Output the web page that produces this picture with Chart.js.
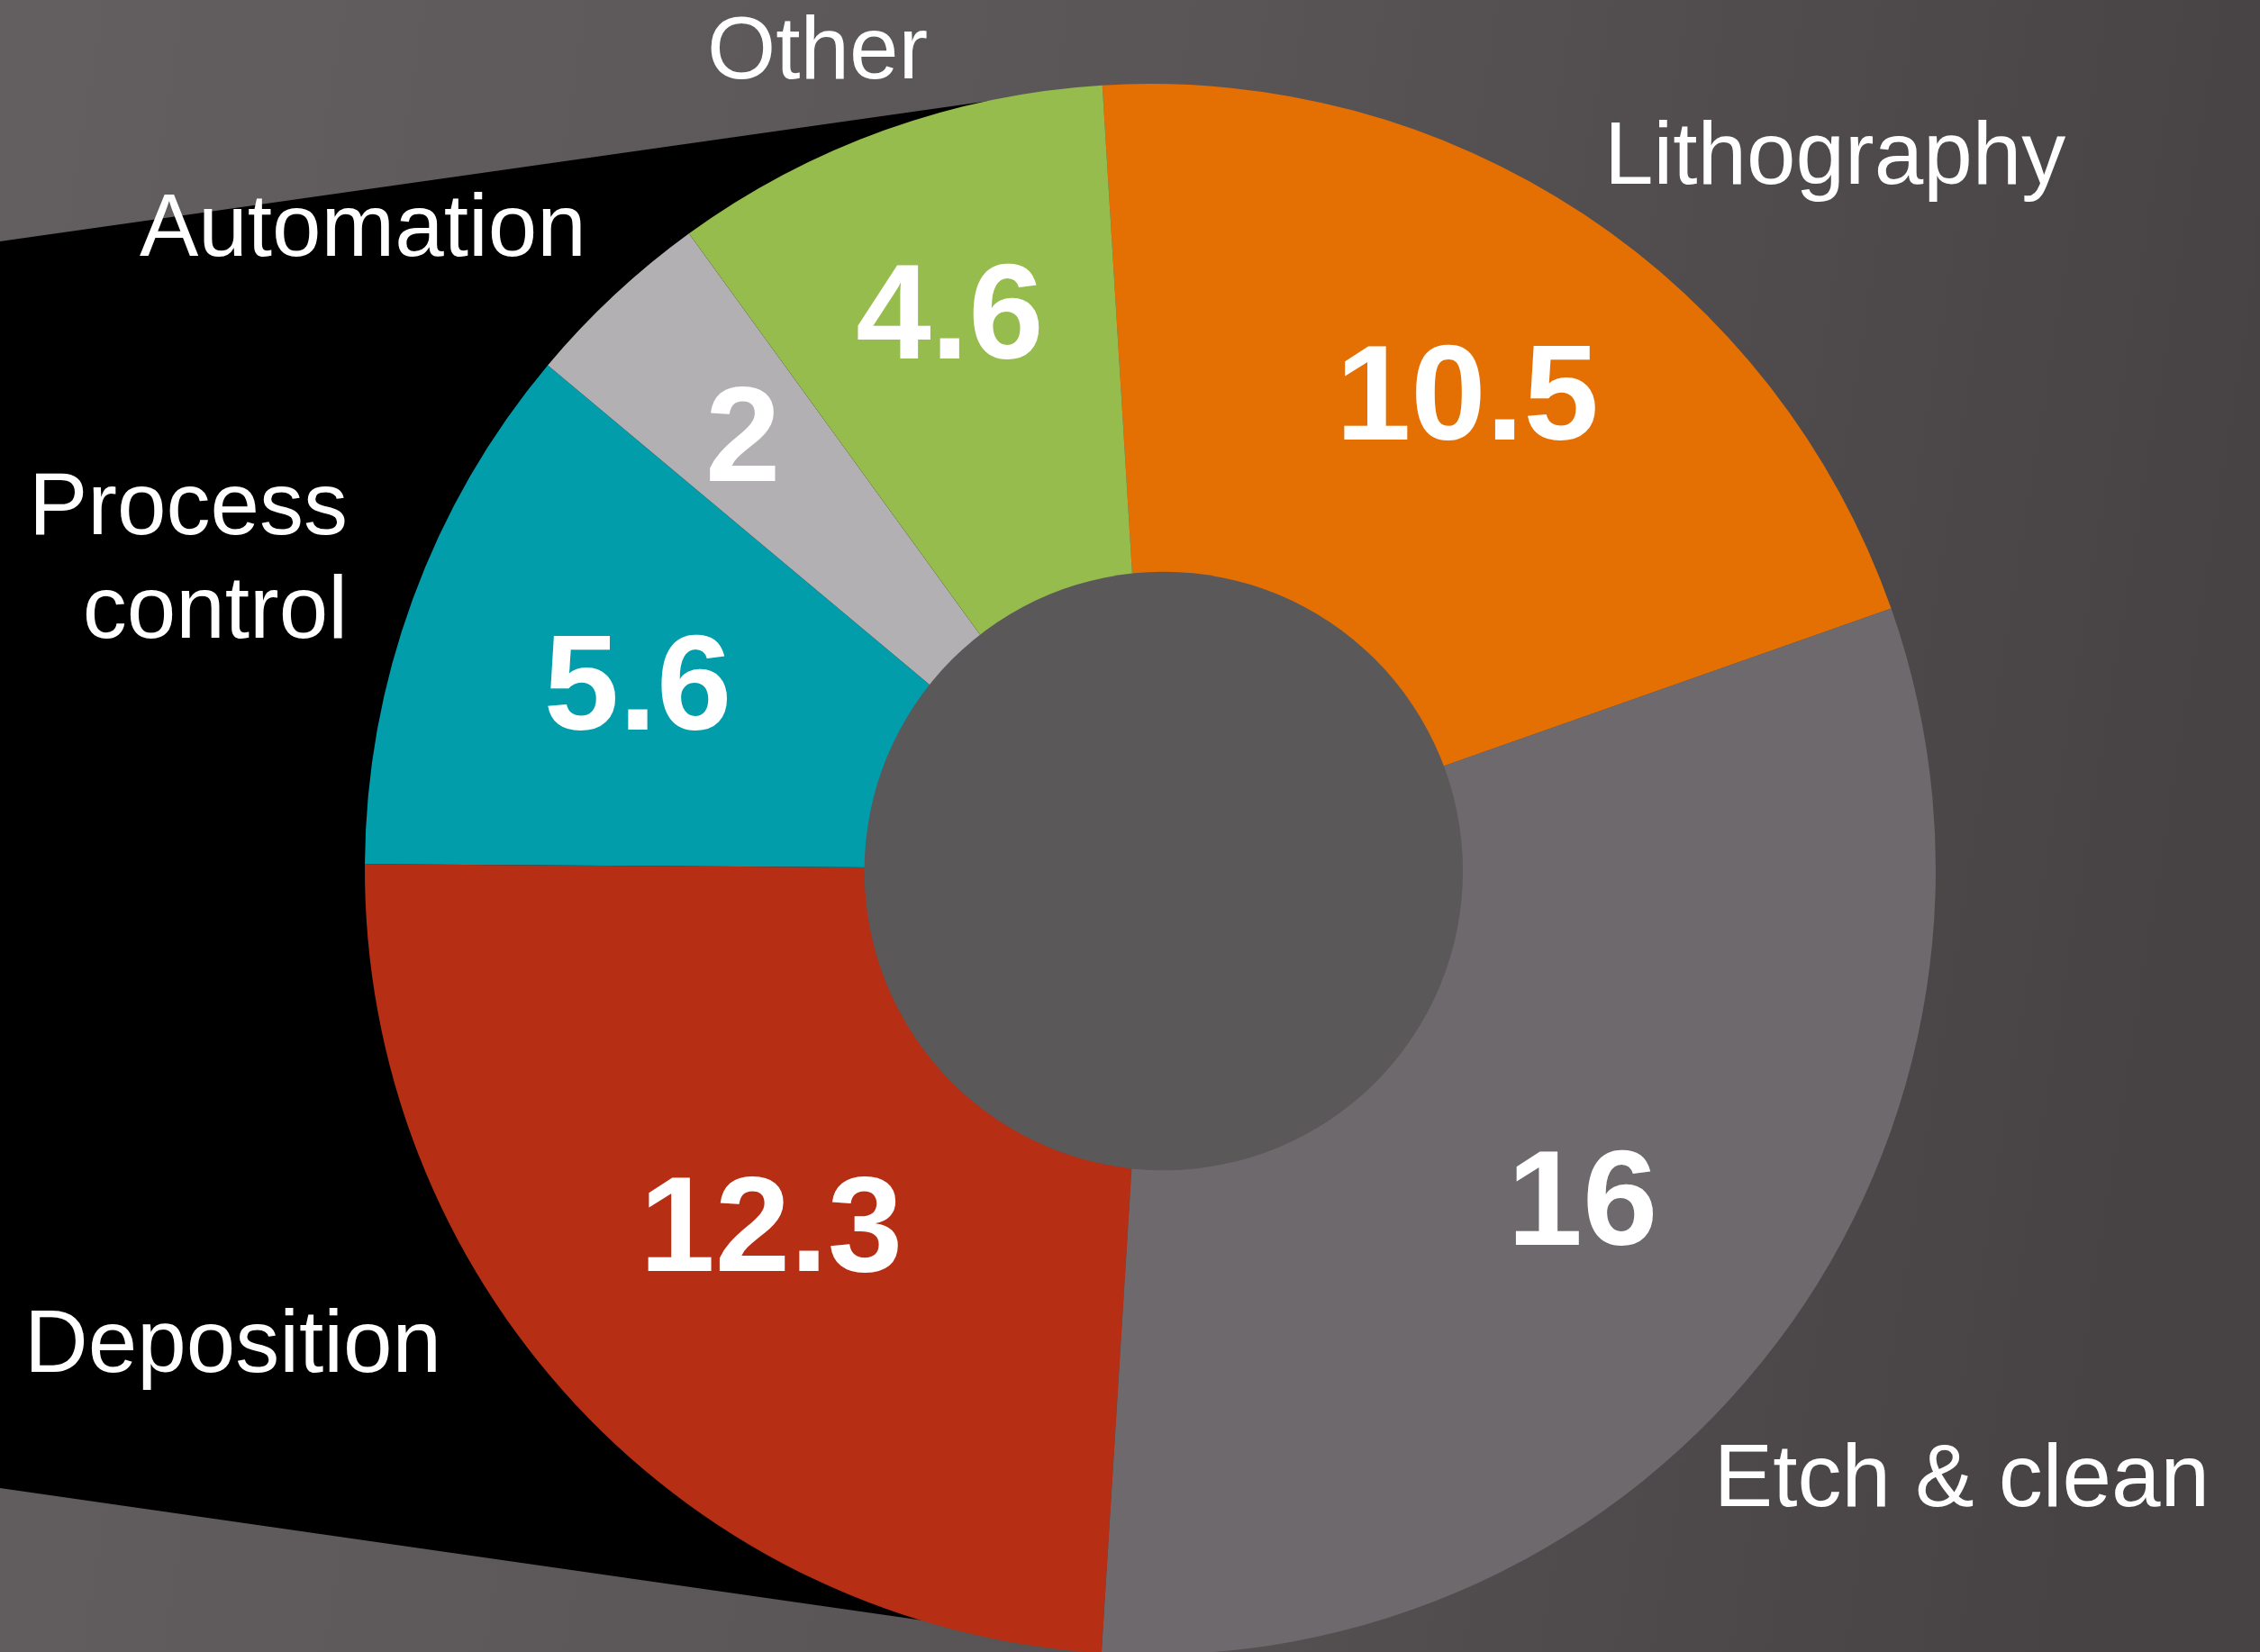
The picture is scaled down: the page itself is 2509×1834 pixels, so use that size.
<!DOCTYPE html>
<html>
<head>
<meta charset="utf-8">
<title>Equipment segments</title>
<script src="https://cdn.jsdelivr.net/npm/chart.js@4.4.1/dist/chart.umd.min.js"></script>
<style>
  html, body { margin: 0; padding: 0; overflow: hidden; background: #555152; }
  #wrap { width: 2509px; height: 1834px; overflow: hidden; }
</style>
</head>
<body>
<div id="wrap"><canvas id="segmentChart" width="2509" height="1840"></canvas></div>
<script>
// data
const categories = ['Lithography', 'Etch & clean', 'Deposition', 'Process control', 'Automation', 'Other'];
const values = [10.5, 16, 12.3, 5.6, 2, 4.6];
const valueLabels = ['10.5', '16', '12.3', '5.6', '2', '4.6'];
const nameLines = [['Lithography'], ['Etch & clean'], ['Deposition'], ['Process', 'control'], ['Automation'], ['Other']];

// styling / layout (kept apart from the data)
const sliceColors = ['#e46f02', '#6e696d', '#b62e13', '#019dab', '#b2b0b2', '#95bc4d'];
const valueRadius = [0.73, 0.69, 0.66, 0.695, 0.76, 0.756]; // fraction of outer radius
const namePlacement = [
    { x: 1781, y: 204, align: 'left' },
    { x: 2453, y: 1672, align: 'right' },
    { x: 27, y: 1523, align: 'left' },
    { x: 386, y: 593, align: 'right' },
    { x: 155, y: 284, align: 'left' },
    { x: 785, y: 87, align: 'left' },
];
const VALUE_FONT = 150;
const NAME_FONT = 98;

const backdrop = {
    id: 'backdrop',
    beforeDraw(chart) {
        const ctx = chart.ctx;
        const w = chart.width, h = chart.height;
        const g = ctx.createLinearGradient(0, 0, w, 400);
        g.addColorStop(0, '#635e60');
        g.addColorStop(0.5, '#5a5657');
        g.addColorStop(1, '#474344');
        ctx.save();
        ctx.fillStyle = g;
        ctx.fillRect(0, 0, w, h);

        // black wedge behind the left half of the ring;
        // its right edge stays inside the ring so no corner pokes out
        const edge = 1100;
        ctx.fillStyle = '#000';
        ctx.beginPath();
        ctx.moveTo(0, 268);
        ctx.lineTo(edge, 268 - 0.142 * edge);
        ctx.lineTo(edge, 1652 + 0.1433 * edge);
        ctx.lineTo(0, 1652);
        ctx.closePath();
        ctx.fill();
        ctx.restore();
    },
    afterDatasetsDraw(chart) {
        const ctx = chart.ctx;
        const arcs = chart.getDatasetMeta(0).data;
        const first = arcs[0];
        ctx.save();

        // grey hole, sits a little right of the ring centre
        ctx.fillStyle = '#5a5859';
        ctx.beginPath();
        ctx.arc(first.x + first.outerRadius * 0.017, first.y + 2, first.outerRadius * 0.381, 0, Math.PI * 2);
        ctx.fill();

        // numbers inside the slices
        ctx.fillStyle = '#ffffff';
        ctx.textAlign = 'center';
        ctx.textBaseline = 'alphabetic';
        ctx.font = `bold ${VALUE_FONT}px "Liberation Sans", Arial, sans-serif`;
        arcs.forEach((arc, i) => {
            const mid = (arc.startAngle + arc.endAngle) / 2;
            const r = arc.outerRadius * valueRadius[i];
            const x = arc.x + Math.cos(mid) * r;
            const y = arc.y + Math.sin(mid) * r;
            ctx.fillText(valueLabels[i], x, y + VALUE_FONT * 0.358);
        });

        // category names around the ring
        ctx.font = `${NAME_FONT}px "Liberation Sans", Arial, sans-serif`;
        nameLines.forEach((lines, i) => {
            const p = namePlacement[i];
            ctx.textAlign = p.align;
            lines.forEach((line, j) => {
                ctx.fillText(line, p.x, p.y + j * 115);
            });
        });
        ctx.restore();
    }
};

const ctx = document.getElementById('segmentChart').getContext('2d');
new Chart(ctx, {
    type: 'doughnut',
    data: {
        labels: categories,
        datasets: [{
            data: values,
            backgroundColor: sliceColors,
            borderWidth: 0,
            hoverOffset: 0
        }]
    },
    options: {
        responsive: false,
        animation: false,
        events: [],
        rotation: -3.5,
        cutout: '35%',
        layout: {
            padding: { left: 405, right: 360, top: 93, bottom: 3 }
        },
        plugins: {
            legend: { display: false },
            tooltip: { enabled: false }
        }
    },
    plugins: [backdrop]
});
</script>
</body>
</html>
